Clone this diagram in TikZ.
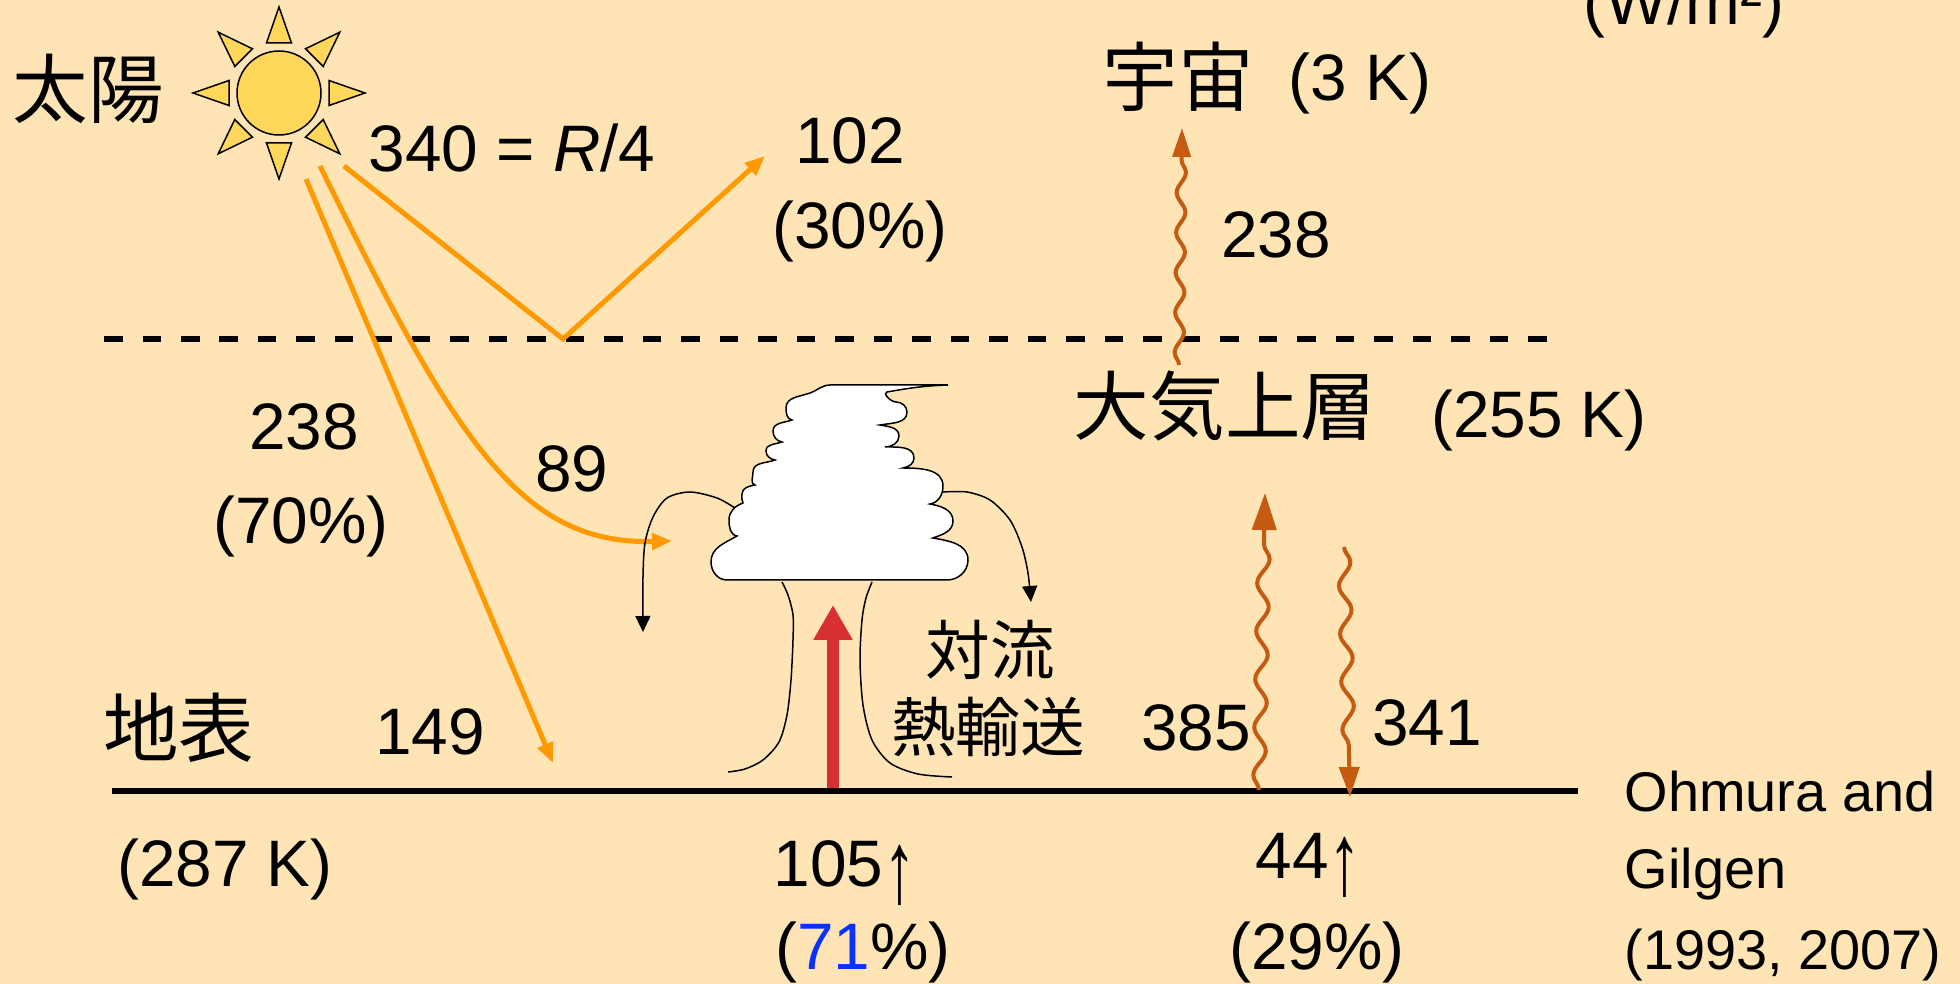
\documentclass[tikz,border=0pt]{standalone}
\usepackage{fontspec}
\setmainfont{Liberation Sans}
\newfontfamily\jpfont{Noto Sans CJK JP}
\usepackage{tikz}
\usetikzlibrary{arrows.meta,positioning,decorations.pathmorphing}

\definecolor{bgcol}{HTML}{FFE4B5}
\definecolor{sunfill}{HTML}{FFD75A}
\definecolor{solar}{HTML}{FF9900}
\definecolor{irbrown}{HTML}{C55A11}
\definecolor{convred}{HTML}{D83030}
\definecolor{pctblue}{HTML}{0A32FF}

\newcommand{\numsize}{\fontsize{18.7}{22}\selectfont}
\newcommand{\jpsize}{\jpfont\fontsize{21.5}{25}\selectfont}
\newcommand{\jpsmall}{\jpfont\fontsize{18.4}{22}\selectfont}
\newcommand{\refsize}{\fontsize{15.9}{19}\selectfont}
% tall upward arrow after the net fluxes
\newcommand{\uparr}{\raisebox{-0.24em}{\scalebox{1}[1.55]{↑}}}

\begin{document}
\begin{tikzpicture}[
  x=0.1mm, y=0.1mm,
  num/.style={font=\numsize, inner sep=0pt, anchor=base},
  jp/.style={font=\jpsize, inner sep=0pt},
  jps/.style={font=\jpsmall, inner sep=0pt},
  cite/.style={font=\refsize, inner sep=0pt, anchor=base west},
  sunray/.style={fill=sunfill, draw=black, line width=0.15mm},
  sw/.style={solar, line width=0.5mm, -{Triangle[length=2mm,width=1.6mm]}},
  lw/.style={irbrown, line width=0.4mm, decorate},
  cb/.style={fill=white, draw=black, line width=0.15mm},
  flow/.style={line width=0.15mm, -{Triangle[length=1.6mm,width=1.5mm]}},
]
  \useasboundingbox (0,0) rectangle (1960,-984);
  \clip (0,0) rectangle (1960,-984);
  \fill[bgcol] (0,0) rectangle (1960,-984);

  % Levels
  \draw[line width=0.6mm, dash pattern=on 1.85mm off 2mm] (104,-339) -- (1556,-339);

  % Sun
  \foreach \a in {0,45,...,315}
    \filldraw[sunray, rotate around={\a:(279,-93)}]
      (329,-80.5) -- (365,-93) -- (329,-105.5) -- cycle;
  \node[circle, sunray, minimum size=8.4mm, inner sep=0pt] (sun) at (279,-93) {};

  % Solar beams
  \coordinate (a1) at (306,-179);
  \coordinate (a2) at (320,-166);
  \coordinate (a3) at (344,-166);
  \coordinate (refl) at (563,-339);
  \coordinate (toSpace) at (765,-156);
  \coordinate (toSurf) at (553,-763);
  \coordinate (toCloud) at (672,-541);
  \draw[sw] (a1) -- (toSurf);
  \draw[sw] (a2) .. controls (455,-440) and (520,-545) .. (toCloud);
  \draw[sw] (a3) -- (refl) -- (toSpace);

  % Outflow and stem of the cloud
  \draw[flow] plot[smooth] coordinates {(735,-508) (717,-498) (690,-492) (667,-498)
    (653,-517) (645,-543) (643,-577) (643,-632)};
  \draw[flow] plot[smooth] coordinates {(943,-492) (967,-492) (990,-500) (1010,-520)
    (1022,-547) (1028,-573) (1031,-602)};
  \draw[line width=0.15mm] plot[smooth] coordinates {(782,-582) (788,-595) (793,-615)
    (793,-640) (791,-680) (787,-715) (779,-742) (763,-760) (745,-769) (728,-772)};
  \draw[line width=0.15mm] plot[smooth] coordinates {(872,-582) (866,-598) (862,-620)
    (860,-660) (863,-705) (872,-740) (890,-763) (918,-774) (952,-777)};

  % Cumulonimbus
  \filldraw[cb] (727,-580)
    to[out=180,in=270] (711,-562)
    to[out=90,in=210] (737,-536)
    to[out=170,in=270] (729,-520)
    to[out=90,in=200] (743,-503)
    to[out=120,in=270] (742,-494)
    to[out=90,in=190] (755,-485)
    to[out=170,in=270] (753,-472)
    to[out=90,in=200] (775,-460)
    to[out=170,in=270] (766,-451)
    to[out=90,in=200] (782,-442)
    to[out=170,in=270] (773,-431)
    to[out=90,in=200] (792,-420)
    to[out=170,in=270] (786,-408)
    to[out=90,in=200] (810,-393)
    to[out=20,in=182] (830,-385)
    -- (948,-385)
    to[out=182,in=10] (887,-392)
    to[out=190,in=180] (896,-402)
    to[out=0,in=90] (907,-412)
    to[out=270,in=10] (880,-425)
    to[out=-10,in=90] (899,-436)
    to[out=270,in=0] (885,-447)
    to[out=0,in=90] (914,-458)
    to[out=270,in=10] (903,-468)
    to[out=0,in=90] (943,-486)
    to[out=270,in=10] (930,-504)
    to[out=-10,in=90] (953,-521)
    to[out=270,in=20] (933,-538)
    to[out=-10,in=90] (968,-560)
    to[out=270,in=0] (947,-580)
    -- cycle;

  % Convective heat transport
  \coordinate (convS) at (833,-791);
  \coordinate (convE) at (833,-605);
  \draw[convred, line width=1.2mm, -{Triangle[length=3.5mm,width=3.7mm]}] (convS) -- (convE);

  % Surface
  \draw[line width=0.55mm] (112,-791) -- (1578,-791);

  % Longwave radiation
  \coordinate (olrS) at (1179,-365);
  \coordinate (olrE) at (1182,-128);
  \coordinate (upS) at (1259,-790);
  \coordinate (upE) at (1265,-493);
  \coordinate (dnS) at (1344,-547);
  \coordinate (dnE) at (1350,-797);
  \draw[lw, decoration={snake, amplitude=0.45mm, segment length=4mm, post length=2.9mm},
    -{Triangle[length=2.9mm,width=1.8mm]}] (olrS) -- (olrE);
  \draw[lw, decoration={snake, amplitude=0.6mm, segment length=4.8mm, post length=3.7mm},
    -{Triangle[length=3.7mm,width=2.4mm]}] (upS) -- (upE);
  \draw[lw, decoration={snake, amplitude=0.6mm, segment length=4.8mm, post length=3mm},
    -{Triangle[length=3mm,width=2mm]}] (dnS) -- (dnE);

  % Labels
  \node[jp] (sunlbl) at (88,-89) {太陽};
  \node[num] (insol) at (512,-172) {340 = \textit{R}/4};
  \node[num] (r102) at (850,-164) {102};
  \node[num] (r30) at (860,-249) {(30\%)};
  \node[jp] (space) at (1178,-77) {宇宙};
  \node[num] (spaceT) at (1360,-101) {(3 K)};
  \node[num] (unit) at (1684,-25) {(W/m²)};
  \node[num] (olr) at (1276,-258) {238};
  \node[jp] (upper) at (1225,-406) {大気上層};
  \node[num] (upperT) at (1539,-438) {(255 K)};
  \node[num] (a238) at (304,-450) {238};
  \node[num] (a70) at (301,-544) {(70\%)};
  \node[num] (a89) at (572,-492) {89};
  \node[jp] (surf) at (179,-728) {地表};
  \node[num] (a149) at (430,-755) {149};
  \node[num] (surfT) at (225,-886) {(287 K)};
  \node[jps] (conv1) at (990,-650) {対流};
  \node[jps] (conv2) at (988,-727) {熱輸送};
  \node[num] (up385) at (1196,-751) {385};
  \node[num] (dn341) at (1427,-746) {341};
  \node[num, anchor=base west] (net105) at (773,-887) {105\uparr};
  \node[num] (p71) at (863,-970) {(\textcolor{pctblue}{71}\%)};
  \node[num, anchor=base west] (net44) at (1255,-879) {44\uparr};
  \node[num] (p29) at (1317,-970) {(29\%)};
  \node[cite] (ref1) at (1624,-812) {Ohmura and};
  \node[cite] (ref2) at (1624,-889) {Gilgen};
  \node[cite] (ref3) at (1624,-969) {(1993, 2007)};
\end{tikzpicture}
\end{document}
